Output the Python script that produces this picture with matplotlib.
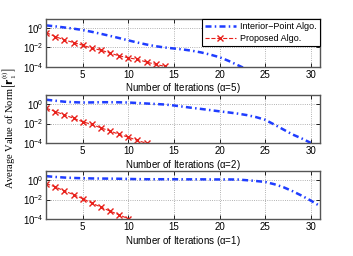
import numpy as np
import matplotlib
matplotlib.use("Agg")
import matplotlib.pyplot as plt

plt.rcParams['font.family'] = ['Liberation Sans', 'DejaVu Sans']
plt.rcParams['mathtext.default'] = 'regular'

alphas = [5, 2, 1]

# log10 values
blue_x = [list(range(1, 24)), list(range(1, 31)), list(range(1, 32))]
blue_log = [
    [0.23, 0.13, 0.02, -0.1, -0.24, -0.42, -0.62, -0.83, -1.05, -1.28, -1.5, -1.7,
     -1.87, -2.0, -2.1, -2.2, -2.33, -2.5, -2.72, -2.98, -3.35, -3.78, -4.2],
    [0.4, 0.3, 0.2, 0.15, 0.12, 0.13, 0.15, 0.15, 0.14, 0.12, 0.07, 0.02, -0.03,
     -0.08, -0.18, -0.3, -0.42, -0.53, -0.65, -0.77, -0.88, -1.0, -1.15, -1.35,
     -1.62, -2.1, -2.6, -3.1, -3.5, -3.95],
    [0.36, 0.28, 0.22, 0.18, 0.15, 0.13, 0.12, 0.11, 0.1, 0.08, 0.06, 0.05, 0.05,
     0.05, 0.05, 0.04, 0.04, 0.04, 0.03, 0.03, 0.03, 0.02, -0.05, -0.13, -0.22,
     -0.45, -0.75, -1.15, -1.6, -2.1, -2.65],
]
red_x = [list(range(1, 15)), list(range(1, 13)), list(range(1, 11))]
red_log = [
    [-0.5, -0.9, -1.24, -1.5, -1.77, -2.07, -2.27, -2.57, -2.84, -3.04, -3.2, -3.47, -3.7, -3.9],
    [-0.45, -0.79, -1.13, -1.47, -1.82, -2.09, -2.44, -2.75, -3.1, -3.37, -3.71, -3.99],
    [-0.39, -0.73, -1.14, -1.5, -1.91, -2.36, -2.76, -3.17, -3.54, -3.94],
]
xticks = [5, 10, 15, 20, 25, 30]
yticks = [1e-4, 1e-2, 1e0]

fig = plt.figure(figsize=(3.53, 2.56), dpi=100)
tops = [0.926, 0.629, 0.332]
h = 0.189
left, width = 0.131, 0.775
axes = []
for i in range(3):
    ax = fig.add_axes([left, tops[i] - h, width, h])
    axes.append(ax)
    ln, = ax.semilogy(blue_x[i], 10.0 ** np.array(blue_log[i]), color='#1f3dff',
                      linestyle='-.', linewidth=1.8, label='Interior\u2212Point Algo.')
    ln.set_dashes((2.4, 1.3, 0.6, 1.3))
    ax.semilogy(red_x[i], 10.0 ** np.array(red_log[i]), color='#e8201a',
                linestyle='--', linewidth=0.8, marker='x', markersize=4.5,
                markeredgewidth=1.0, label='Proposed Algo.')
    ax.set_xlim(1, 31)
    ax.set_ylim(1e-4, 10 ** 0.88)
    ax.set_xticks(xticks)
    ax.set_yticks(yticks)
    ax.minorticks_off()
    ax.tick_params(direction='in', labelsize=7, length=3, width=0.6, pad=2,
                   top=True, right=True)
    ax.grid(True, linestyle=':', color='#999999', linewidth=0.6)
    for s in ax.spines.values():
        s.set_color('#555555')
        s.set_linewidth(1.0)
    ax.set_xlabel('Number of Iterations ($\\alpha$=%d)' % alphas[i], fontsize=7, labelpad=1)

leg = axes[0].legend(loc='upper right', fontsize=6.5, frameon=True, fancybox=False,
                     edgecolor='black', framealpha=1, borderpad=0.35,
                     handlelength=3.4, labelspacing=0.35, borderaxespad=0.0,
                     handletextpad=0.5)
leg.get_frame().set_linewidth(0.8)

fig.text(0.025, 0.5, 'Average Value of Norm$\\left[\\mathbf{r}_1^{(t)}\\right]$',
         rotation=90, ha='center', va='center', fontsize=7.5,
         family=['Liberation Serif', 'DejaVu Serif'])

fig.savefig('out.png', dpi=100)
